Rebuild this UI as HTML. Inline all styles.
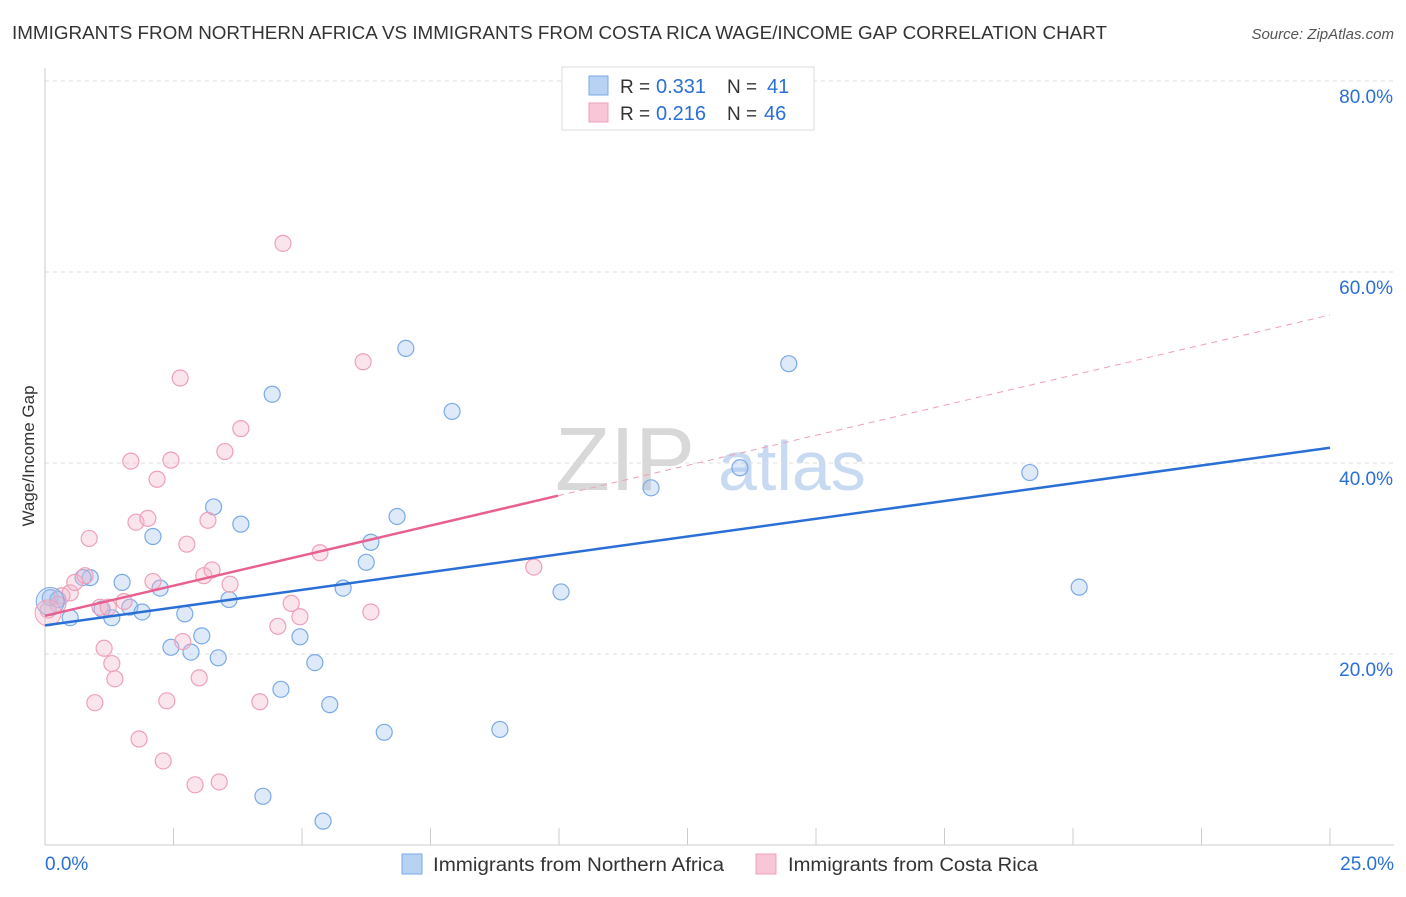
<!DOCTYPE html>
<html><head><meta charset="utf-8"><style>
body{margin:0;background:#fff;font-family:"Liberation Sans",sans-serif;}
svg text{font-family:"Liberation Sans",sans-serif;}
</style></head><body>
<svg id="chart" width="1406" height="892">
<text x="12" y="39" font-size="18" fill="#333" textLength="1095" lengthAdjust="spacingAndGlyphs">IMMIGRANTS FROM NORTHERN AFRICA VS IMMIGRANTS FROM COSTA RICA WAGE/INCOME GAP CORRELATION CHART</text>
<text x="1394" y="39" font-size="15" fill="#555" font-style="italic" text-anchor="end">Source: ZipAtlas.com</text>
<text x="34" y="456" font-size="17" fill="#333" text-anchor="middle" transform="rotate(-90 34 456)">Wage/Income Gap</text>
<text x="555" y="490" font-size="90" fill="#d8d8d8" font-family="Liberation Serif">ZIP</text>
<text x="718" y="490" font-size="70" fill="#c8daf2">atlas</text>
<g id="grid"></g><g id="marks"></g>
<g>
<rect x="562" y="67" width="252" height="63" fill="#fff" stroke="#ddd"/>
<rect x="589" y="76" width="19" height="19" fill="#b8d2f4" stroke="#7aaae6"/>
<rect x="589" y="103" width="19" height="19" fill="#f8c6d6" stroke="#eea0b8"/>
<text x="620" y="93" font-size="19" fill="#333">R =</text>
<text x="656" y="93" font-size="20" fill="#2a6fd6">0.331</text>
<text x="727" y="93" font-size="19" fill="#333">N =</text>
<text x="767" y="93" font-size="20" fill="#2a6fd6">41</text>
<text x="620" y="120" font-size="19" fill="#333">R =</text>
<text x="656" y="120" font-size="20" fill="#2a6fd6">0.216</text>
<text x="727" y="120" font-size="19" fill="#333">N =</text>
<text x="764" y="120" font-size="20" fill="#2a6fd6">46</text>
</g>
<g>
<rect x="402" y="854" width="20" height="20" fill="#b8d2f4" stroke="#7aaae6"/>
<text x="433" y="871" font-size="19" fill="#333" textLength="291" lengthAdjust="spacingAndGlyphs">Immigrants from Northern Africa</text>
<rect x="756" y="854" width="20" height="20" fill="#f8c6d6" stroke="#eea0b8"/>
<text x="788" y="871" font-size="19" fill="#333" textLength="250" lengthAdjust="spacingAndGlyphs">Immigrants from Costa Rica</text>
</g>
</svg>
<script>
const yTicks=[20,40,60,80];
const xLabels=["0.0%","25.0%"];
const blueX=[0.10,0.25,0.49,0.88,1.11,1.30,1.50,1.65,1.89,2.10,2.24,2.45,2.72,2.84,3.05,3.28,3.37,3.58,3.81,4.42,4.59,4.24,4.96,5.25,5.41,5.54,5.80,6.25,6.34,6.60,6.85,7.02,7.92,8.85,10.04,11.79,13.52,14.47,19.16,20.12,0.74];
const blueY=[25.9,25.7,23.8,28.0,24.7,23.8,27.5,24.9,24.4,32.3,26.9,20.7,24.2,20.2,21.9,35.4,19.6,25.7,33.6,47.2,16.3,5.1,21.8,19.1,2.5,14.7,26.9,29.6,31.7,11.8,34.4,52.0,45.4,12.1,26.5,37.4,39.5,50.4,39.0,27.0,28.0];
const pinkX=[0.06,0.33,0.49,0.58,0.78,0.86,0.97,1.07,1.15,1.23,1.30,1.36,1.54,1.67,1.77,1.83,2.00,2.10,2.18,2.30,2.37,2.45,2.63,2.68,2.76,2.92,3.00,3.09,3.17,3.25,3.39,3.50,3.60,3.81,4.18,4.53,4.63,4.79,4.96,5.35,6.19,6.34,9.51,0.25];
const pinkY=[24.6,26.1,26.4,27.5,28.2,32.1,14.9,24.9,20.6,24.9,19.0,17.4,25.5,40.2,33.8,11.1,34.2,27.6,38.3,8.8,15.1,40.3,48.9,21.3,31.5,6.3,17.5,28.2,34.0,28.8,6.6,41.2,27.3,43.6,15.0,22.9,63.0,25.3,23.9,30.6,50.6,24.4,29.1,25.2];
const blueTrend=[23.0,41.6];
const pinkTrend=[24.0,55.5];
const pinkSolidEnd=9.98;
const NS="http://www.w3.org/2000/svg";
const sx=v=>45+v/25*1285, sy=v=>845-v/20*191;
function mk(t,a,p){const e=document.createElementNS(NS,t);for(const k in a)e.setAttribute(k,a[k]);p.appendChild(e);return e;}
const g=document.getElementById('grid'), m=document.getElementById('marks');
yTicks.forEach(t=>{
 const l=mk('line',{x1:45,x2:1394,y1:sy(t),y2:sy(t),stroke:'#ddd','stroke-dasharray':'4 4'},g);
 
 
 const tx=mk('text',{x:1393,y:sy(t)+22,'font-size':19,fill:'#2a6fd6','text-anchor':'end'},g);
 tx.textContent=t.toFixed(1)+'%';
 
 
});
const ax=mk('line',{x1:45,x2:45,y1:68,y2:845,stroke:'#ccc'},g);


const bx=mk('line',{x1:45,x2:1394,y1:845,y2:845,stroke:'#ccc'},g);


for(let i=0;i<=10;i++){const v=i*2.5;
 const t=mk('line',{x1:sx(v),x2:sx(v),y1:828,y2:845,stroke:'#ccc'},g);
 
 }
[[0,'start',45],[25,'end',1394]].forEach((d,i)=>{
 const t=mk('text',{x:d[2],y:870,'font-size':19,fill:'#2a6fd6','text-anchor':d[1]},g);
 t.textContent=xLabels[i];
 
 });
function pts(X,Y,fill,stroke,name){X.forEach((x,i)=>{
 const c=mk('circle',{cx:sx(x),cy:sy(Y[i]),r:8,fill:fill,stroke:stroke,'stroke-width':1.2},m);
 
 });}
pts(blueX,blueY,'rgba(160,196,240,0.35)','#7aaae6','point-northern-africa');
pts(pinkX,pinkY,'rgba(244,180,200,0.35)','#eea0b8','point-costa-rica');
const bb=mk('circle',{cx:sx(0.1),cy:sy(25.5),r:14,fill:'rgba(160,196,240,0.35)',stroke:'#7aaae6'},m);


const pb=mk('circle',{cx:sx(0.06),cy:sy(24.3),r:13,fill:'rgba(244,180,200,0.35)',stroke:'#eea0b8'},m);


const bl=mk('line',{x1:sx(0),y1:sy(blueTrend[0]),x2:sx(25),y2:sy(blueTrend[1]),stroke:'#2a6fd6','stroke-width':2.5},m);


const pe=pinkTrend[0]+(pinkTrend[1]-pinkTrend[0])*pinkSolidEnd/25;
const pl=mk('line',{x1:sx(0),y1:sy(pinkTrend[0]),x2:sx(pinkSolidEnd),y2:sy(pe),stroke:'#e8608f','stroke-width':2.5},m);


const pd=mk('line',{x1:sx(pinkSolidEnd),y1:sy(pe),x2:sx(25),y2:sy(pinkTrend[1]),stroke:'#eea0b8','stroke-width':1,'stroke-dasharray':'6 5'},m);


</script>
</body></html>
